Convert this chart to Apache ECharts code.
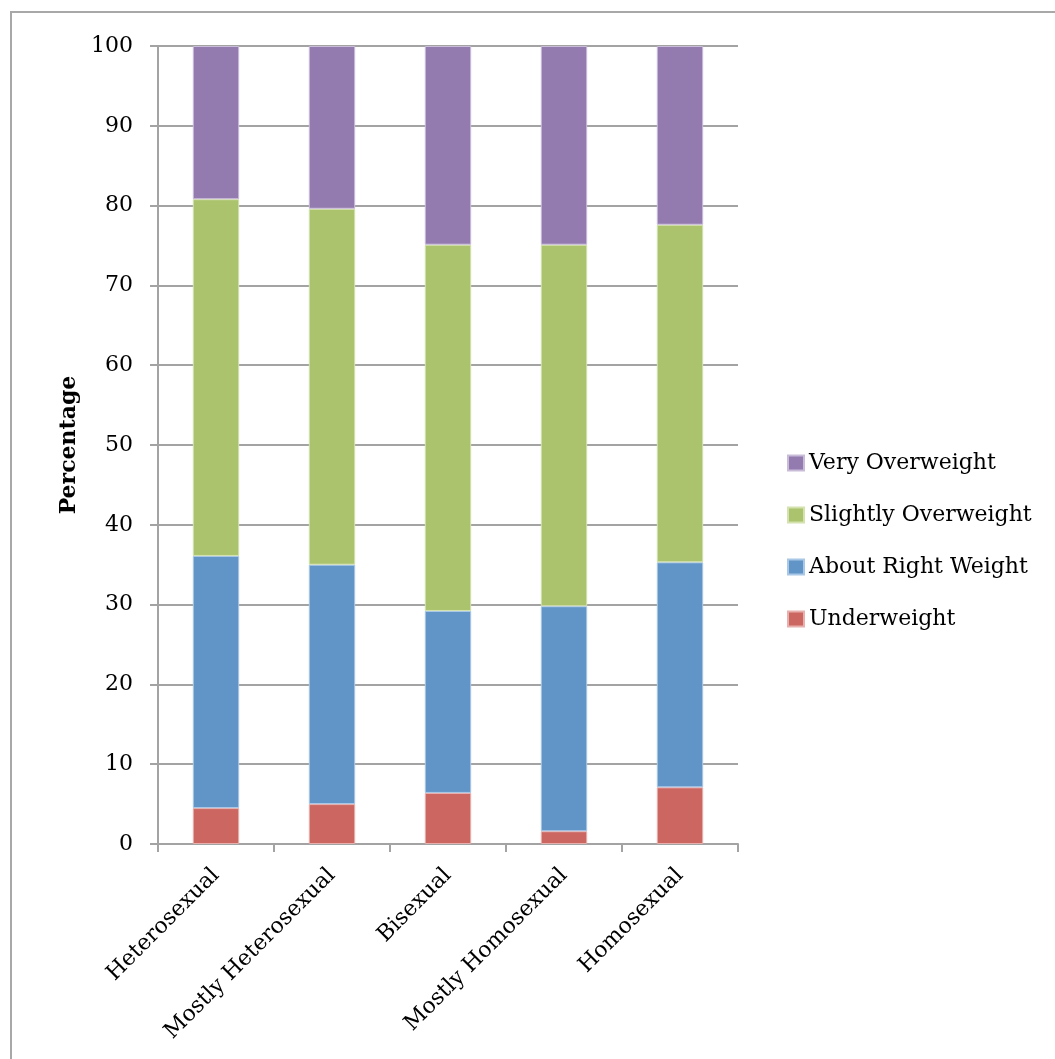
<!DOCTYPE html>
<html>
<head>
<meta charset="utf-8">
<script src="https://cdn.jsdelivr.net/npm/echarts@6/dist/echarts.min.js"></script>
<style>
  html, body { margin: 0; padding: 0; background: #ffffff; }
  #chart { width: 1055px; height: 1059px; }
</style>
</head>
<body>
<div id="chart"></div>
<script>
// Body weight self-perception by sexual orientation (percent of each group)
const categories = ['Heterosexual', 'Mostly Heterosexual', 'Bisexual', 'Mostly Homosexual', 'Homosexual'];
const underweight = [4.5, 5.0, 6.4, 1.6, 7.1];
const aboutRight = [31.6, 30.0, 22.8, 28.2, 28.2];
const slightlyOver = [44.7, 44.6, 45.9, 45.3, 42.3];
const veryOver = [19.2, 20.4, 24.9, 24.9, 22.4];
const yTicks = [0, 10, 20, 30, 40, 50, 60, 70, 80, 90, 100];

const font = '"DejaVu Serif", "Liberation Serif", serif';
const gridColor = '#a3a3a3';

const seriesDefs = [
  { name: 'Underweight', data: underweight, color: '#cc6660', edge: '#e8b0ad' },
  { name: 'About Right Weight', data: aboutRight, color: '#6195c8', edge: '#a9c7e6' },
  { name: 'Slightly Overweight', data: slightlyOver, color: '#abc36c', edge: '#d3e2ae' },
  { name: 'Very Overweight', data: veryOver, color: '#937bb0', edge: '#c9bcd9' }
];

const chart = echarts.init(document.getElementById('chart'), null, { renderer: 'canvas' });

chart.setOption({
  backgroundColor: '#ffffff',
  animation: false,
  graphic: [{
    type: 'rect',
    shape: { x: 11, y: 12, width: 1100, height: 1100 },
    style: { fill: 'none', stroke: '#a8a8a8', lineWidth: 2 },
    silent: true,
    z: -1
  }],
  grid: { left: 158, top: 46, right: 317, bottom: 215, containLabel: false },
  legend: {
    orient: 'vertical',
    left: 787,
    top: 452,
    padding: 0,
    itemWidth: 16,
    itemHeight: 15,
    itemGap: 30,
    icon: 'rect',
    textStyle: { fontFamily: font, fontSize: 22, color: '#000000' },
    data: ['Very Overweight', 'Slightly Overweight', 'About Right Weight', 'Underweight']
  },
  xAxis: {
    type: 'category',
    data: categories,
    axisLine: { lineStyle: { color: gridColor, width: 2 } },
    axisTick: { show: true, length: 8, lineStyle: { color: gridColor, width: 2 } },
    axisLabel: {
      rotate: 45,
      interval: 0,
      margin: 28,
      fontFamily: font,
      fontSize: 22,
      color: '#000000'
    }
  },
  yAxis: {
    type: 'value',
    min: 0,
    max: 100,
    interval: 10,
    name: 'Percentage',
    nameLocation: 'middle',
    nameGap: 78,
    nameRotate: 90,
    nameTextStyle: { fontFamily: font, fontSize: 22, fontWeight: 'bold', color: '#000000' },
    axisLine: { show: true, lineStyle: { color: gridColor, width: 2 } },
    axisTick: { show: true, length: 8, lineStyle: { color: gridColor, width: 2 } },
    splitLine: { show: true, lineStyle: { color: gridColor, width: 2 } },
    axisLabel: {
      margin: 25,
      fontFamily: font,
      fontSize: 22,
      color: '#000000',
      formatter: function (v) { return yTicks.indexOf(v) >= 0 ? String(v) : ''; }
    }
  },
  series: seriesDefs.map(function (s) {
    return {
      name: s.name,
      type: 'bar',
      stack: 'total',
      barWidth: '40%',
      data: s.data,
      itemStyle: { color: s.color, borderColor: s.edge, borderWidth: 1 }
    };
  })
});
</script>
</body>
</html>
